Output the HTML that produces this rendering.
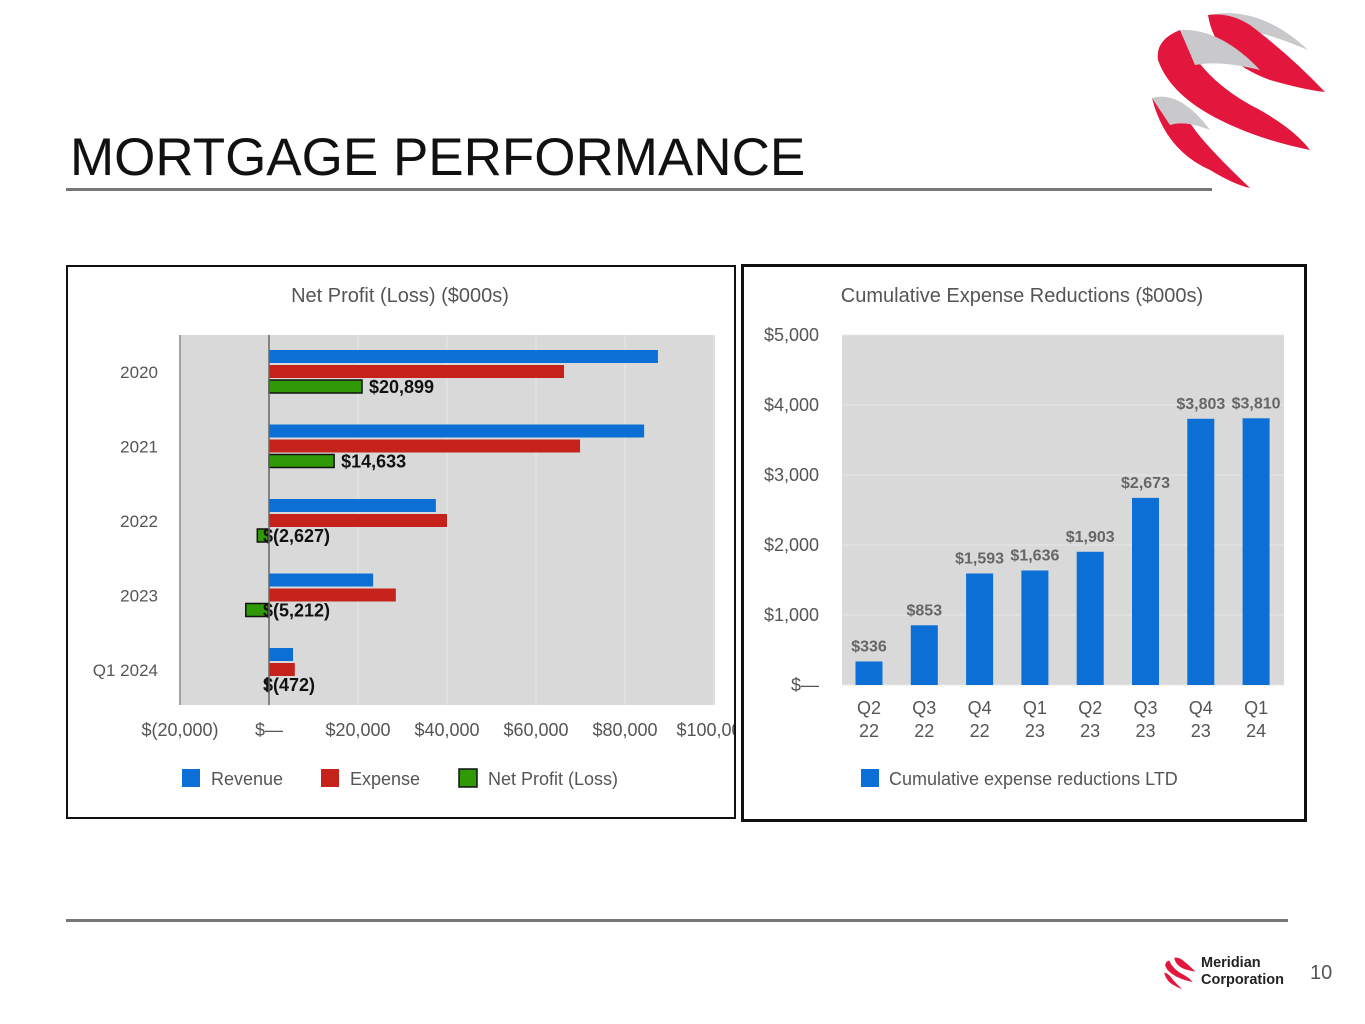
<!DOCTYPE html>
<html><head><meta charset="utf-8"><style>
body{margin:0;width:1365px;height:1024px;background:#fff;font-family:"Liberation Sans",sans-serif;position:relative;overflow:hidden}
.abs{position:absolute}
</style></head><body>
<div class="abs" style="left:70px;top:127px;font-size:53px;color:#111">MORTGAGE PERFORMANCE</div>
<div class="abs" style="left:66px;top:188px;width:1146px;height:3px;background:#777"></div>
<svg class="abs" style="left:1140px;top:0" width="200" height="200" viewBox="0 0 200 200">
<path d="M68 15 Q120 5 168 50 Q120 30 100 30 Z" fill="#c9c9cb"/>
<path d="M68 15 Q75 60 130 80 Q165 90 185 92 Q150 55 110 25 Q90 12 68 15Z" fill="#e3173e"/>
<path d="M40 30 Q60 80 120 110 Q155 130 170 150 Q120 140 80 120 Q30 95 18 60 Q15 40 40 30Z" fill="#e3173e"/>
<path d="M40 30 Q80 28 120 70 Q80 60 55 65Z" fill="#c9c9cb"/>
<path d="M12 98 Q25 150 70 170 Q95 185 110 188 Q70 150 55 130 Q35 100 12 98Z" fill="#e3173e"/>
<path d="M12 98 Q40 90 70 130 Q45 120 30 125Z" fill="#c9c9cb"/>
</svg>

<svg class="abs" style="left:0;top:0" width="1365" height="1024" id="charts" font-family="Liberation Sans, sans-serif"></svg>

<div class="abs" style="left:66px;top:265px;width:666px;height:550px;border:2px solid #111"></div>
<div class="abs" style="left:741px;top:264px;width:560px;height:552px;border:3px solid #111"></div>

<div class="abs" style="left:66px;top:919px;width:1222px;height:3px;background:#777"></div>
<svg class="abs" style="left:1160px;top:955px" width="40" height="36" viewBox="0 0 200 200">
<path d="M68 15 Q75 60 130 80 Q165 90 185 92 Q150 55 110 25 Q90 12 68 15Z" fill="#e3173e"/>
<path d="M40 30 Q60 80 120 110 Q155 130 170 150 Q120 140 80 120 Q30 95 18 60 Q15 40 40 30Z" fill="#e3173e"/>
<path d="M12 98 Q25 150 70 170 Q95 185 110 188 Q70 150 55 130 Q35 100 12 98Z" fill="#e3173e"/>
</svg>
<div class="abs" style="left:1201px;top:955px;font-size:14.5px;font-weight:bold;color:#222;line-height:17px">Meridian<br>Corporation</div>
<div class="abs" style="left:1310px;top:962px;font-size:20px;color:#555">10</div>

<script>
const years=["2020","2021","2022","2023","Q1 2024"];
const revenue=[87400,84300,37500,23400,5400];
const expense=[66300,69900,40000,28500,5800];
const netProfit=[20899,14633,-2627,-5212,-472];
const netLabels=["$20,899","$14,633","$(2,627)","$(5,212)","$(472)"];
const xTicks=[-20000,0,20000,40000,60000,80000,100000];
const xTickLabels=["$(20,000)","$—","$20,000","$40,000","$60,000","$80,000","$100,000"];

const quarters=[["Q2","22"],["Q3","22"],["Q4","22"],["Q1","23"],["Q2","23"],["Q3","23"],["Q4","23"],["Q1","24"]];
const cumReductions=[336,853,1593,1636,1903,2673,3803,3810];
const cumLabels=["$336","$853","$1,593","$1,636","$1,903","$2,673","$3,803","$3,810"];
const yTicks=[0,1000,2000,3000,4000,5000];
const yTickLabels=["$—","$1,000","$2,000","$3,000","$4,000","$5,000"];

const svg=document.getElementById('charts');
const NS='http://www.w3.org/2000/svg';
function mk(tag,attrs,txt){const e=document.createElementNS(NS,tag);for(const k in attrs)e.setAttribute(k,attrs[k]);if(txt!==undefined)e.textContent=txt;svg.appendChild(e);return e;}

// left chart
const lx=v=>269+(v)*(89/20000);
const ly=i=>372+i*74.5;
let e=mk('text',{x:400,y:302,'text-anchor':'middle','font-size':20,fill:'#555'},'Net Profit (Loss) ($000s)');

e=mk('rect',{x:180,y:335,width:535,height:370,fill:'#d9d9d9'});

xTicks.forEach((t,i)=>{
  if(t>-20000&&t!==0){e=mk('line',{x1:lx(t),x2:lx(t),y1:335,y2:705,stroke:'#e8e8e8','stroke-width':1});}
  e=mk('text',{x:lx(t),y:736,'text-anchor':'middle','font-size':18,fill:'#555'},xTickLabels[i]);
  
});
e=mk('line',{x1:180,x2:180,y1:335,y2:705,stroke:'#888','stroke-width':1.5});

years.forEach((y,i)=>{
  const c=ly(i);
  e=mk('text',{x:158,y:c+6,'text-anchor':'end','font-size':17,fill:'#555'},y);
  
  e=mk('rect',{x:Math.min(lx(0),lx(revenue[i])),y:c-22,width:Math.abs(lx(revenue[i])-lx(0)),height:13,fill:'#0b6fd6'});
  
  e=mk('rect',{x:Math.min(lx(0),lx(expense[i])),y:c-7,width:Math.abs(lx(expense[i])-lx(0)),height:13,fill:'#c5221b'});
  
  e=mk('rect',{x:Math.min(lx(0),lx(netProfit[i])),y:c+8,width:Math.max(2,Math.abs(lx(netProfit[i])-lx(0))),height:13,fill:'#2f9a06',stroke:'#111','stroke-width':1.5});
  
  const lxp=netProfit[i]>0?lx(netProfit[i])+7:lx(0)-6;
  e=mk('text',{x:lxp,y:c+21,'font-size':18,'font-weight':'bold',fill:'#111'},netLabels[i]);
  
});
e=mk('line',{x1:lx(0),x2:lx(0),y1:335,y2:705,stroke:'#666','stroke-width':1.5});

e=mk('rect',{x:734,y:330,width:24,height:420,fill:'#fff'});

const leg=[["Revenue","#0b6fd6",182,211,false],["Expense","#c5221b",321,350,false],["Net Profit (Loss)","#2f9a06",459,488,true]];
leg.forEach(l=>{
  e=mk('rect',{x:l[2],y:769,width:18,height:18,fill:l[1],stroke:l[4]?'#111':'none','stroke-width':1.5});
  
  e=mk('text',{x:l[3],y:785,'font-size':18,fill:'#555'},l[0]);
  
});

// right chart
const ry=v=>685-v*0.07;
const rx=i=>869+i*55.3;
e=mk('text',{x:1022,y:302,'text-anchor':'middle','font-size':20,fill:'#555'},'Cumulative Expense Reductions ($000s)');

e=mk('rect',{x:842,y:335,width:442,height:350,fill:'#d9d9d9'});

yTicks.forEach((t,i)=>{
  e=mk('line',{x1:842,x2:1284,y1:ry(t),y2:ry(t),stroke:'#e8e8e8','stroke-width':1});
  
  e=mk('text',{x:819,y:ry(t)+6,'text-anchor':'end','font-size':18,fill:'#555'},yTickLabels[i]);
  
});
cumReductions.forEach((v,i)=>{
  e=mk('rect',{x:rx(i)-13.5,y:ry(v),width:27,height:ry(0)-ry(v),fill:'#0b6fd6'});
  
  e=mk('text',{x:rx(i),y:ry(v)-10,'text-anchor':'middle','font-size':16,'font-weight':'bold',fill:'#666'},cumLabels[i]);
  
  e=mk('text',{x:rx(i),y:714,'text-anchor':'middle','font-size':18,fill:'#555'},quarters[i][0]);
  
  e=mk('text',{x:rx(i),y:737,'text-anchor':'middle','font-size':18,fill:'#555'},quarters[i][1]);
  
});
e=mk('rect',{x:861,y:769,width:18,height:18,fill:'#0b6fd6'});

e=mk('text',{x:889,y:785,'font-size':18,fill:'#555'},'Cumulative expense reductions LTD');

</script>
</body></html>
